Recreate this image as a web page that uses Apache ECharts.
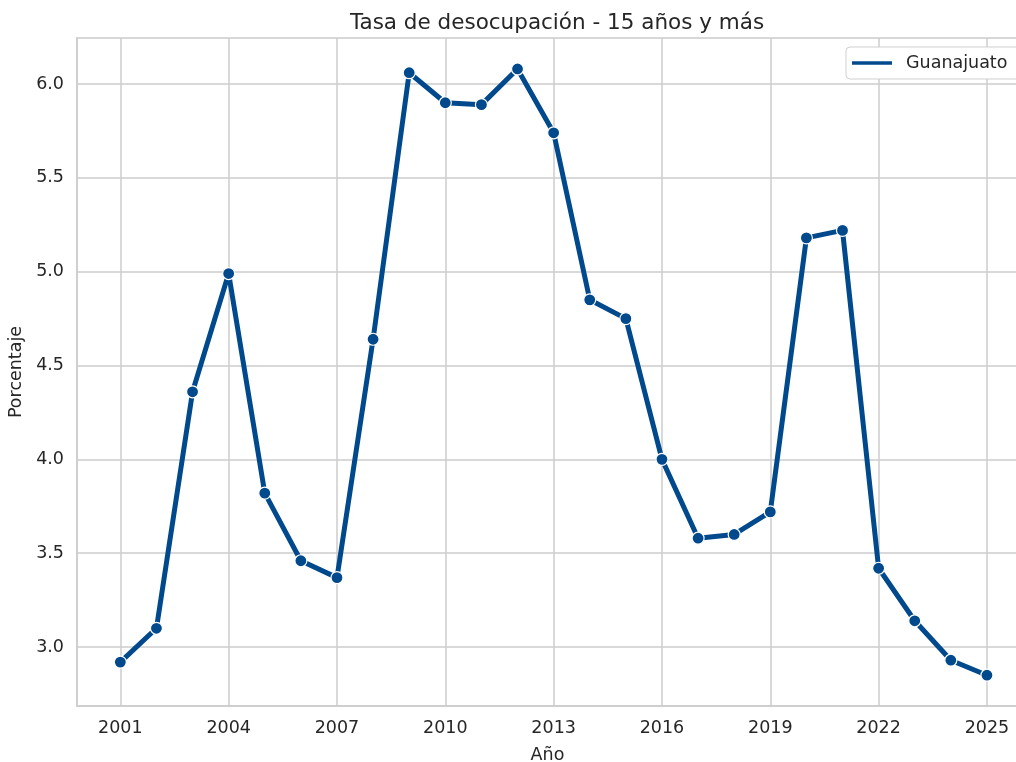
<!DOCTYPE html>
<html>
<head>
<meta charset="utf-8">
<script src="https://cdn.jsdelivr.net/npm/echarts@6/dist/echarts.min.js"></script>
<style>
html, body { margin: 0; padding: 0; background: #fff; }
#chart { width: 1016px; height: 762px; }
</style>
</head>
<body>
<div id="chart"></div>
<script>
var years = [2001, 2002, 2003, 2004, 2005, 2006, 2007, 2008, 2009, 2010, 2011, 2012, 2013,
	2014, 2015, 2016, 2017, 2018, 2019, 2020, 2021, 2022, 2023, 2024, 2025];
var rates = [2.92, 3.10, 4.36, 4.99, 3.82, 3.46, 3.37, 4.64, 6.06, 5.90, 5.89, 6.08, 5.74,
	4.85, 4.75, 4.00, 3.58, 3.60, 3.72, 5.18, 5.22, 3.42, 3.14, 2.93, 2.85];
var xTicks = [2001, 2004, 2007, 2010, 2013, 2016, 2019, 2022, 2025];
var yTicks = [3.0, 3.5, 4.0, 4.5, 5.0, 5.5, 6.0];
var seriesName = 'Guanajuato';

var lineColor = '#00498c';
var textColor = '#262626';
var gridColor = '#cccccc';
var fontFam = '"DejaVu Sans", sans-serif';

var chart = echarts.init(document.getElementById('chart'));
chart.setOption({
	backgroundColor: '#fff',
	animation: false,
	title: {
		text: 'Tasa de desocupación - 15 años y más',
		left: 552,
		textAlign: 'center',
		top: 7,
		textStyle: { fontFamily: fontFam, fontSize: 21.5, fontWeight: 'normal', color: textColor }
	},
	legend: {
		left: 846,
		top: 47,
		padding: [7, 12, 7, 6],
		borderColor: '#d0d0d0',
		borderWidth: 1,
		borderRadius: 4,
		backgroundColor: '#fff',
		itemWidth: 40,
		itemHeight: 3.5,
		itemGap: 10,
		icon: 'rect',
		textStyle: { fontFamily: fontFam, fontSize: 17.5, color: textColor, padding: [0, 0, 0, 9] },
		data: [{ name: seriesName, itemStyle: { color: lineColor, borderWidth: 0 } }]
	},
	grid: {
		left: 77,
		right: -2,
		top: 38,
		bottom: 56,
		show: true,
		borderColor: gridColor,
		borderWidth: 1.5,
		containLabel: false,
		outerBoundsMode: 'none'
	},
	xAxis: {
		type: 'value',
		min: 1999.8,
		max: 2025.86,
		name: 'Año',
		nameLocation: 'middle',
		nameGap: 40,
		nameTextStyle: { fontFamily: fontFam, fontSize: 17.5, color: textColor },
		axisLine: { show: true, lineStyle: { color: gridColor, width: 1.5 } },
		axisTick: { show: false, customValues: xTicks },
		axisLabel: {
			customValues: xTicks,
			margin: 13,
			fontFamily: fontFam, fontSize: 17.5, color: textColor,
			formatter: function (v) { return String(v); }
		},
		splitLine: { show: true, lineStyle: { color: gridColor, width: 1.5 } }
	},
	yAxis: {
		type: 'value',
		min: 2.686,
		max: 6.245,
		name: 'Porcentaje',
		nameLocation: 'middle',
		nameGap: 51,
		nameTextStyle: { fontFamily: fontFam, fontSize: 17.5, color: textColor },
		axisLine: { show: true, lineStyle: { color: gridColor, width: 1.5 } },
		axisTick: { show: false, customValues: yTicks },
		axisLabel: {
			customValues: yTicks,
			margin: 13,
			fontFamily: fontFam, fontSize: 17.5, color: textColor,
			formatter: function (v) { return v.toFixed(1); }
		},
		splitLine: { show: true, lineStyle: { color: gridColor, width: 1.5 } }
	},
	series: [{
		name: seriesName,
		type: 'line',
		data: years.map(function (y, i) { return [y, rates[i]]; }),
		symbol: 'circle',
		symbolSize: 12,
		lineStyle: { color: lineColor, width: 5 },
		itemStyle: { color: lineColor, borderColor: '#fff', borderWidth: 1.2 },
		z: 3
	}]
});
</script>
</body>
</html>
